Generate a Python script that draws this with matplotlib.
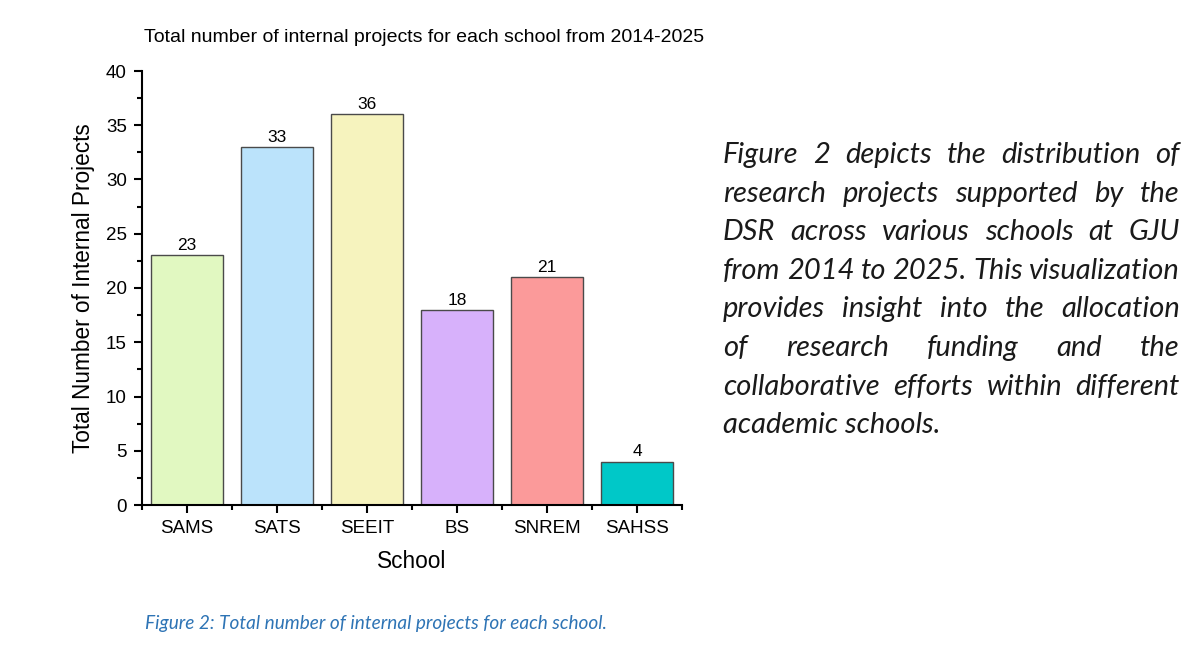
import matplotlib
matplotlib.use("Agg")
import matplotlib.pyplot as plt
from matplotlib.ticker import MultipleLocator, FixedLocator

schools = ["SAMS", "SATS", "SEEIT", "BS", "SNREM", "SAHSS"]
projects = [23, 33, 36, 18, 21, 4]
colors = ["#E1F8C1", "#BBE3FB", "#F6F3BE", "#D7B1FB", "#FB9A9A", "#00C8C8"]

para_lines = [
    "Figure 2 depicts the distribution of",
    "research projects supported by the",
    "DSR across various schools at GJU",
    "from 2014 to 2025. This visualization",
    "provides insight into the allocation",
    "of research funding and the",
    "collaborative efforts within different",
    "academic schools.",
]

W, H = 1200, 646
fig = plt.figure(figsize=(12, 6.46), dpi=100)
ax = fig.add_axes([142 / W, 1 - 505 / H, 540 / W, 434 / H])

x = list(range(len(schools)))
bars = ax.bar(x, projects, width=0.8, color=colors, edgecolor="#4a4a4a", linewidth=1.0)
for xi, v in zip(x, projects):
    ax.text(xi, v + 0.2, str(v), ha="center", va="bottom", fontsize=12.5,
            family="Liberation Sans")

ax.set_xlim(-0.5, 5.5)
ax.set_ylim(0, 40)
ax.set_xticks(x)
ax.set_xticklabels(schools, family="Liberation Sans", fontsize=13.5)
ax.xaxis.set_minor_locator(FixedLocator([i - 0.5 for i in range(len(schools) + 1)]))
ax.yaxis.set_major_locator(MultipleLocator(5))
ax.yaxis.set_minor_locator(MultipleLocator(2.5))
for lab in ax.get_yticklabels():
    lab.set_family("Liberation Sans")
    lab.set_fontsize(13.5)
ax.tick_params(which="major", direction="out", length=6, width=1.5, pad=5)
ax.tick_params(which="minor", direction="out", length=3.5, width=1.5)
for s in ["top", "right"]:
    ax.spines[s].set_visible(False)
for s in ["left", "bottom"]:
    ax.spines[s].set_linewidth(1.5)

ax.set_xlabel("School", family="Liberation Sans", fontsize=16.3, labelpad=9)
ax.set_ylabel("Total Number of Internal Projects", family="Liberation Sans", fontsize=16.3, labelpad=8)

fig.text(424 / W, 1 - 38 / H, "Total number of internal projects for each school from 2014-2025",
         ha="center", va="center", family="Liberation Sans", fontsize=14)

fig.text(145 / W, 1 - 624 / H, "Figure 2: Total number of internal projects for each school.",
         ha="left", va="center", family="Lato", style="italic", fontsize=13.7,
         color="#2E74B5")

# justified paragraph
fig.canvas.draw()
renderer = fig.canvas.get_renderer()
x_left, x_right = 723, 1180
y0 = 155
lh = 38.6
fs = 21
pfont = dict(family="Lato", style="italic", weight="normal", fontsize=fs, color="#1a1a1a")
for i, line in enumerate(para_lines):
    words = line.split(" ")
    y = 1 - (y0 + i * lh) / H
    if i == len(para_lines) - 1:
        fig.text(x_left / W, y, line, ha="left", va="center", **pfont)
        continue
    tobjs = []
    widths = []
    for w in words:
        t = fig.text(0, y, w, ha="left", va="center", **pfont)
        tobjs.append(t)
        widths.append(t.get_window_extent(renderer).width)
    total = sum(widths)
    gap = (x_right - x_left - total) / (len(words) - 1)
    cx = x_left
    for t, wd in zip(tobjs, widths):
        t.set_x(cx / W)
        cx += wd + gap

fig.savefig("out.png", dpi=100)
